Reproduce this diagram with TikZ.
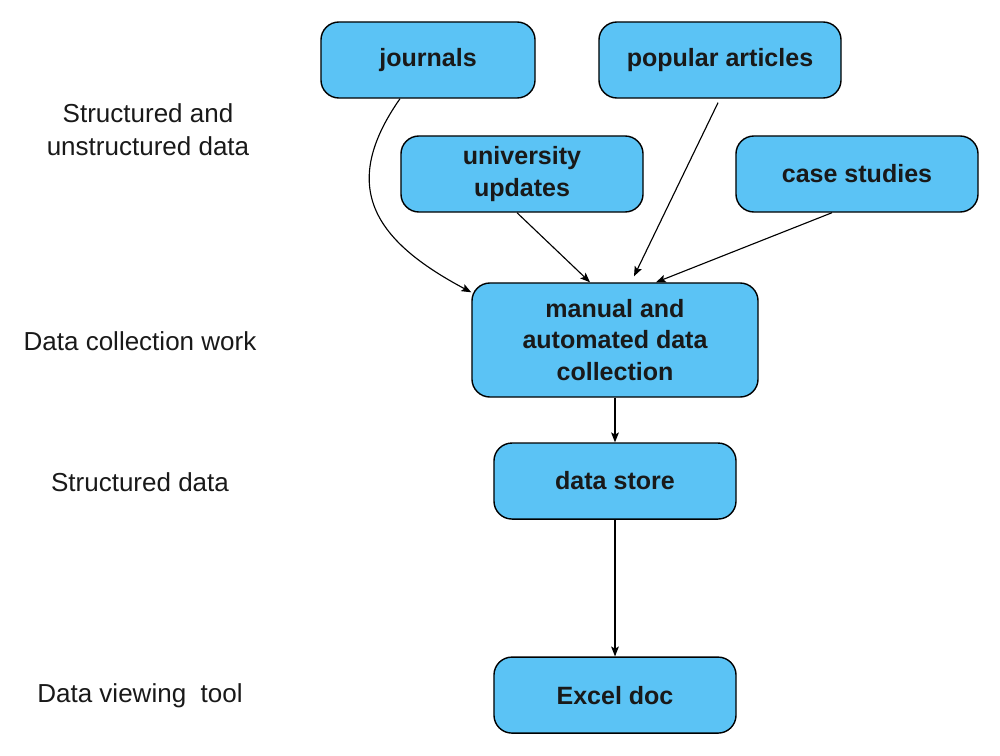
\documentclass[tikz,border=0pt]{standalone}
\usepackage{fontspec}
\setmainfont{Liberation Sans}
\usetikzlibrary{arrows.meta,positioning}
\definecolor{boxblue}{RGB}{91,195,245}

\begin{document}
\begin{tikzpicture}[x=0.025cm,y=-0.025cm,->,>={Stealth[length=7pt,width=5.5pt,inset=1.5pt]},line width=0.8pt,
box/.style={draw=black,line width=1pt,fill=boxblue,rounded corners=0.45cm,minimum width=6.05cm,minimum height=1.9cm,inner sep=0pt,align=center,text=black!90,font=\fontsize{17.8}{22.4}\selectfont\bfseries},
label/.style={align=center,text=black!90,font=\fontsize{18.5}{23.4}\selectfont}]
\useasboundingbox (0,0) rectangle (1000,756);
\node[box,minimum width=5.35cm] (journals) at (428,60) {journals};
\node[box] (popular) at (720,60) {popular articles};
\node[box] (univ) at (522,174) {university\\updates};
\node[box] (cases) at (857,174) {case studies};
\node[box,minimum width=7.15cm,minimum height=2.85cm] (collect) at (615,340) {manual and\\automated data\\collection};
\node[box] [below of=collect,node distance=3.525cm] (store) {data store};
\node[box] [below of=store,node distance=5.35cm] (excel) {Excel doc};
\node[label] (raw) at (148,130) {Structured and\\unstructured data};
\node[label] (work) at (140,341) {Data collection work};
\node[label] (structured) at (140,482) {Structured data};
\node[label] (viewing) at (140,696) {Data viewing\ \ tool};
\draw ([xshift=-0.7cm]journals.south) to[out=235,in=152,looseness=1.35] ([yshift=-0.25cm]collect.north west);
\draw ([xshift=-0.125cm]univ.south) -- ([xshift=-0.625cm]collect.north);
\draw ([xshift=-0.05cm,yshift=-0.1cm]popular.south) -- ([xshift=0.475cm,yshift=0.15cm]collect.north);
\draw ([xshift=-0.625cm]cases.south) -- ([xshift=1.025cm]collect.north);
\draw (collect) -- (store);
\draw (store) -- (excel);
\end{tikzpicture}
\end{document}
